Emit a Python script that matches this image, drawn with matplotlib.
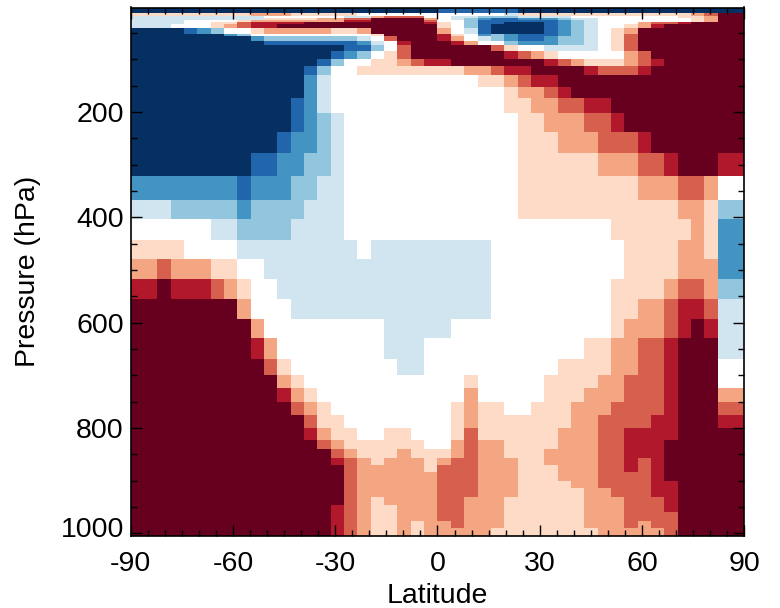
import numpy as np
import matplotlib
matplotlib.use('Agg')
import matplotlib.pyplot as plt
from matplotlib.colors import ListedColormap
from matplotlib.transforms import ScaledTranslation

plt.rcParams['font.family'] = ['Liberation Sans', 'DejaVu Sans']
plt.rcParams['axes.unicode_minus'] = False

# pressure edges of the rows, top to bottom (hPa)
p_edges = [1.3, 12.3, 18, 21.3, 25.1, 28.9, 32.7, 40.8, 52.2, 55.5, 65, 72.6, 84,
           99.1, 112.4, 129.5, 152.3, 173.2, 201.7, 237.8, 277.7, 321.4, 367, 403,
           443, 479, 517, 555, 593, 629, 669, 699.3, 724, 750.6, 775.3, 800, 822.8,
           839.9, 857, 870.3, 883.6, 900.7, 914, 931.1, 946.2, 959.5, 976.6, 990, 1005]

# colour class of each cell, one row per pressure layer, as (count, class) runs west to east
runs = [
    [(23,-5),(6,-4),(17,-5)],
    [(9,1),(3,2),(5,1),(11,0),(1,-1),(13,1),(1,2),(1,3),(2,5)],
    [(10,-1),(6,0),(2,-1),(1,2),(3,3),(1,0),(1,0),(2,-1),(3,-2),(4,-1),(8,0),(2,1),(1,2),(2,5)],
    [(10,-1),(4,1),(2,2),(2,3),(4,5),(1,2),(1,0),(1,-1),(1,-2),(1,-3),(2,-4),(3,-3),(1,-2),(2,-1),(7,0),(1,1),(1,2),(2,5)],
    [(4,-1),(4,0),(1,1),(7,2),(2,4),(4,5),(1,3),(2,0),(1,-2),(6,-4),(1,-3),(1,-2),(1,-1),(7,0),(1,1),(1,2),(2,5)],
    [(4,-1),(2,0),(2,1),(1,3),(4,4),(9,5),(1,4),(1,1),(1,0),(1,-2),(2,-4),(3,-5),(1,-4),(1,-3),(1,-2),(1,-1),(3,0),(1,2),(2,3),(1,4),(4,5)],
    [(3,-1),(3,0),(1,1),(1,2),(1,3),(2,4),(12,5),(1,1),(1,0),(1,-2),(1,-4),(4,-5),(1,-4),(1,-3),(1,-2),(1,-1),(2,0),(1,1),(1,2),(1,4),(6,5)],
    [(4,-5),(1,-4),(1,-3),(1,-2),(2,0),(1,1),(5,2),(2,1),(1,2),(5,5),(1,2),(1,0),(1,-1),(1,-4),(4,-5),(1,-4),(1,-3),(1,-2),(1,-1),(1,0),(1,1),(1,2),(8,5)],
    [(7,-5),(1,-3),(1,-2),(9,0),(1,1),(4,5),(1,4),(1,1),(1,0),(1,-3),(1,-2),(1,-3),(3,-4),(1,-3),(1,-2),(1,-1),(1,0),(1,1),(1,3),(8,5)],
    [(9,-5),(1,-3),(7,-2),(1,-1),(1,0),(1,3),(3,5),(1,4),(1,2),(1,0),(1,-1),(1,-2),(1,-3),(2,-4),(1,-3),(2,-2),(1,-1),(1,0),(1,1),(1,3),(8,5)],
    [(10,-5),(7,-4),(1,-3),(1,-1),(1,0),(1,4),(2,5),(1,5),(1,4),(1,2),(2,0),(1,-2),(3,-3),(2,-2),(1,-1),(1,0),(1,1),(1,3),(8,5)],
    [(16,-5),(2,-4),(1,-2),(1,0),(1,3),(2,5),(4,5),(1,3),(1,1),(2,0),(4,-1),(1,0),(1,1),(1,3),(8,5)],
    [(15,-5),(1,-4),(1,-3),(1,-2),(1,0),(1,1),(1,3),(2,5),(5,5),(1,4),(1,3),(1,2),(1,1),(5,0),(1,2),(1,3),(7,5)],
    [(14,-5),(1,-4),(1,-2),(2,0),(2,1),(1,2),(1,3),(1,4),(1,4),(7,5),(1,4),(1,3),(1,2),(3,1),(1,2),(1,3),(1,4),(6,5)],
    [(13,-5),(1,-4),(1,-2),(2,0),(6,1),(2,1),(2,2),(1,3),(2,4),(4,5),(1,4),(3,3),(1,4),(7,5)],
    [(13,-5),(1,-3),(1,-1),(8,0),(3,0),(2,1),(1,2),(1,3),(2,4),(14,5)],
    [(13,-5),(1,-3),(1,-1),(8,0),(5,0),(1,1),(2,2),(1,3),(1,4),(13,5)],
    [(12,-5),(1,-4),(1,-3),(1,-1),(8,0),(5,0),(2,1),(2,2),(2,3),(2,4),(10,5)],
    [(12,-5),(1,-4),(1,-3),(1,-2),(1,-1),(7,0),(6,0),(2,1),(3,2),(2,3),(1,4),(9,5)],
    [(11,-5),(1,-4),(2,-3),(1,-2),(1,-1),(7,0),(6,0),(3,1),(3,2),(3,3),(1,4),(7,5)],
    [(9,-5),(2,-4),(2,-3),(2,-2),(1,-1),(7,0),(6,0),(6,1),(3,2),(2,3),(1,4),(3,5),(2,4)],
    [(8,-3),(1,-4),(3,-3),(2,-2),(2,-1),(7,0),(6,0),(9,1),(3,2),(2,3),(1,2),(2,0)],
    [(3,-1),(5,-2),(1,-3),(4,-2),(3,-1),(7,0),(6,0),(12,1),(2,2),(1,1),(2,-2)],
    [(6,0),(2,-1),(4,-2),(4,-1),(7,0),(13,0),(6,1),(1,2),(1,1),(2,-3)],
    [(4,1),(4,0),(9,-1),(1,0),(5,-1),(4,-1),(10,0),(4,1),(2,2),(1,1),(2,-3)],
    [(2,2),(1,3),(3,2),(2,1),(2,0),(13,-1),(4,-1),(10,0),(4,1),(3,2),(2,-3)],
    [(2,4),(1,5),(3,4),(1,3),(1,2),(1,1),(2,0),(12,-1),(4,-1),(9,0),(4,1),(1,2),(2,3),(1,2),(2,-2)],
    [(8,5),(1,2),(3,0),(11,-1),(4,-1),(9,0),(2,1),(2,2),(1,3),(2,4),(1,3),(2,-1)],
    [(9,5),(1,2),(9,0),(4,-1),(1,-1),(12,0),(1,1),(3,2),(1,3),(1,4),(1,5),(1,4),(2,-1)],
    [(9,5),(1,4),(1,2),(8,0),(3,-1),(1,0),(11,0),(2,1),(2,2),(2,3),(1,4),(3,5),(2,-1)],
    [(10,5),(1,3),(1,1),(8,0),(2,-1),(1,0),(9,0),(4,1),(2,2),(2,3),(1,4),(3,5),(2,0)],
    [(11,5),(1,2),(1,1),(10,0),(2,0),(1,1),(5,0),(4,1),(2,2),(3,3),(1,4),(3,5),(2,0)],
    [(11,5),(1,4),(1,2),(1,1),(9,0),(2,0),(1,2),(5,0),(3,1),(3,2),(3,3),(1,4),(3,5),(2,2)],
    [(12,5),(1,3),(1,2),(1,1),(8,0),(1,0),(1,1),(1,2),(2,1),(2,0),(3,1),(3,2),(4,3),(1,4),(3,5),(2,3)],
    [(13,5),(1,3),(2,1),(7,0),(1,0),(1,1),(1,2),(7,1),(2,2),(4,3),(2,4),(3,5),(2,4)],
    [(13,5),(1,4),(1,2),(2,1),(2,0),(2,1),(2,0),(1,0),(1,1),(1,3),(6,1),(3,2),(2,3),(4,4),(5,5)],
    [(14,5),(1,3),(1,2),(6,1),(1,0),(1,0),(1,2),(1,3),(2,2),(4,1),(3,2),(2,3),(3,4),(6,5)],
    [(15,5),(1,3),(1,2),(3,1),(1,2),(2,1),(1,1),(1,2),(1,3),(2,2),(3,1),(4,2),(2,3),(3,4),(6,5)],
    [(15,5),(1,4),(1,3),(1,2),(1,1),(3,2),(1,1),(1,2),(2,3),(3,2),(2,1),(4,2),(2,3),(1,4),(1,3),(1,4),(6,5)],
    [(16,5),(1,3),(5,2),(1,1),(3,3),(3,2),(3,1),(3,2),(2,3),(1,4),(1,3),(1,4),(6,5)],
    [(16,5),(1,3),(6,2),(3,3),(3,2),(3,1),(3,2),(4,3),(1,4),(6,5)],
    [(16,5),(1,3),(6,2),(3,3),(3,2),(4,1),(2,2),(4,3),(2,4),(5,5)],
    [(16,5),(1,3),(6,2),(3,3),(3,2),(5,1),(2,2),(3,3),(2,4),(5,5)],
    [(16,5),(1,3),(1,2),(1,1),(4,2),(2,3),(3,2),(6,1),(3,2),(3,3),(1,4),(5,5)],
    [(15,5),(1,4),(1,3),(1,2),(2,1),(3,2),(2,3),(3,2),(6,1),(3,2),(3,3),(1,4),(5,5)],
    [(15,5),(1,4),(1,3),(1,2),(2,1),(3,2),(2,3),(3,2),(6,1),(3,2),(4,3),(5,5)],
    [(15,5),(1,4),(1,3),(1,2),(2,1),(1,2),(1,1),(1,2),(1,2),(1,3),(3,2),(6,1),(3,2),(1,3),(1,2),(2,3),(5,5)],
    [(15,5),(1,4),(1,3),(1,2),(2,1),(1,2),(1,1),(1,2),(4,2),(8,1),(5,2),(1,3),(5,5)],
]

lat_ticks = [-90, -60, -30, 0, 30, 60, 90]
p_ticks = [200, 400, 600, 800, 1000]
colors = ['#053061', '#2166ac', '#4393c3', '#92c5de', '#d1e5f0', '#ffffff',
          '#fddbc7', '#f4a582', '#d6604d', '#b2182b', '#67001f']

Z = np.array([[lev for n, lev in row for _ in range(n)] for row in runs])
lat_edges = np.linspace(-90, 90, Z.shape[1] + 1)

fig = plt.figure(figsize=(7.8, 6.08), dpi=100)
ax = fig.add_axes([130.7/780, 1 - 536/608, (744.3 - 130.7)/780, (536 - 7.5)/608])
ax.pcolormesh(lat_edges, p_edges, Z, cmap=ListedColormap(colors), vmin=-5.5, vmax=5.5)
ax.set_ylim(1005, 1.3)
ax.set_xlim(-90, 90)

ax.set_xticks(lat_ticks)
ax.set_xticklabels([str(v) for v in lat_ticks])
ax.set_xticks(np.arange(-90, 91, 5), minor=True)
ax.set_yticks(p_ticks)
ax.set_yticks(np.arange(50, 1001, 50), minor=True)
ax.tick_params(which='major', direction='in', top=True, right=True, length=8, width=1, labelsize=20.5)
ax.tick_params(which='minor', direction='in', top=True, right=True, length=4, width=1)
ax.tick_params(axis='x', which='major', pad=11)
ax.tick_params(axis='y', which='major', pad=5)
for s in ax.spines.values():
    s.set_linewidth(1.2)
ax.set_xlabel('Latitude', fontsize=20.5, labelpad=4)
ax.set_ylabel('Pressure (hPa)', fontsize=20.5, labelpad=14)

# bottom label sits a little above its tick
lab = ax.get_yticklabels()[-1]
lab.set_transform(lab.get_transform() + ScaledTranslation(0, 6/100, fig.dpi_scale_trans))

fig.savefig('out.png', dpi=100)
